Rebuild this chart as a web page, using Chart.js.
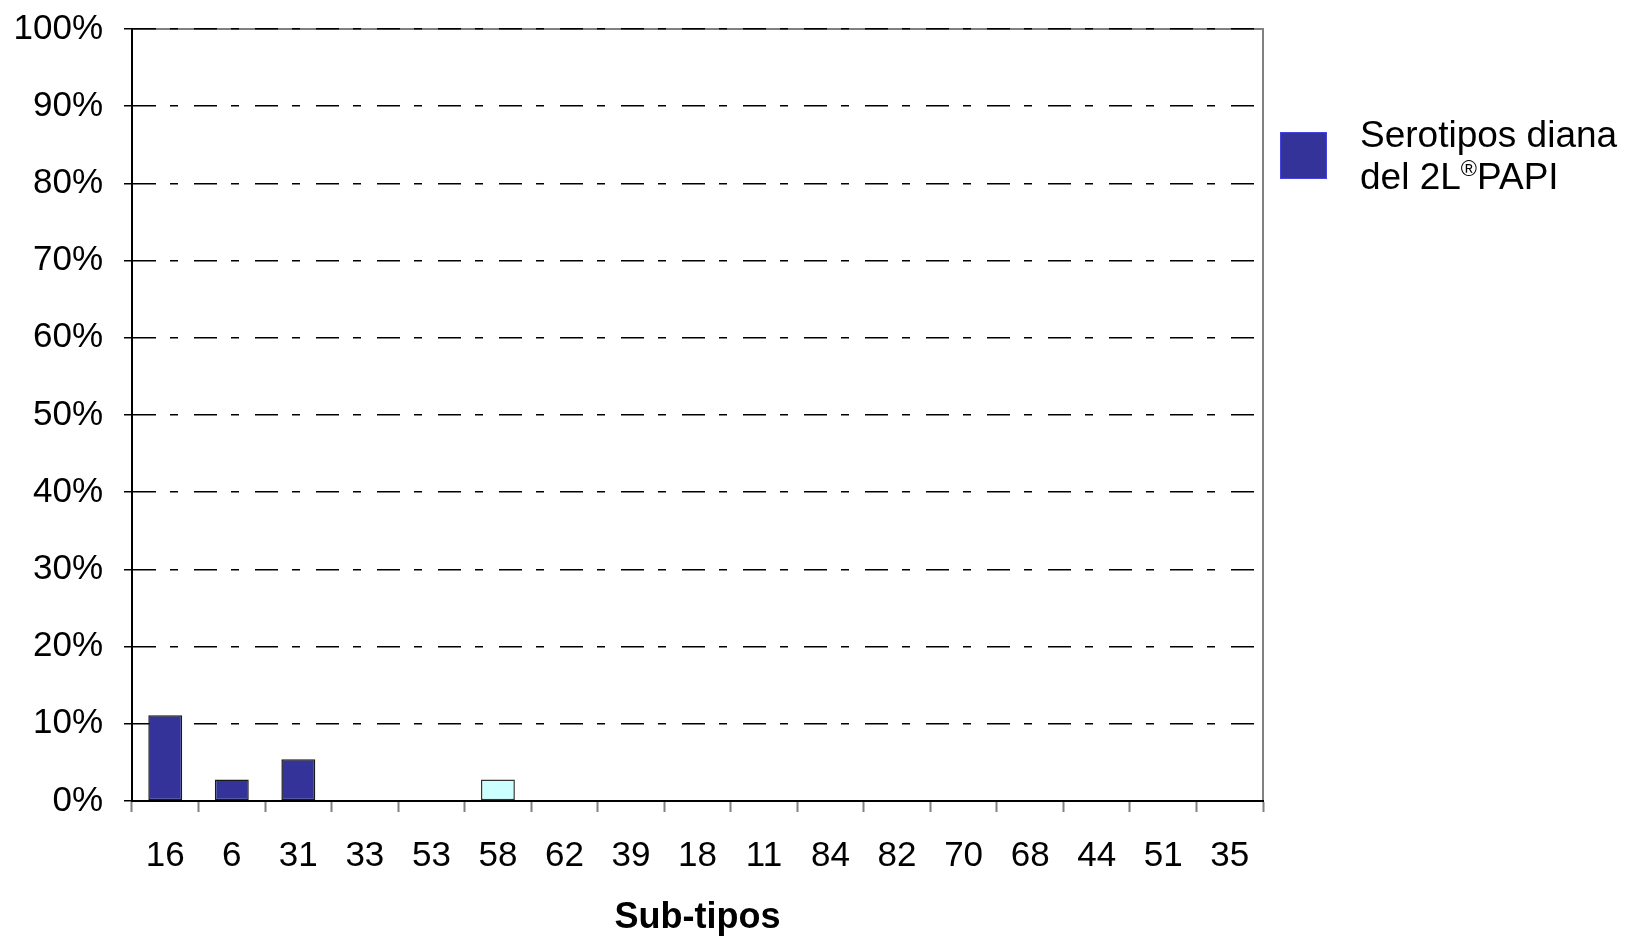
<!DOCTYPE html>
<html lang="es">
<head>
  <meta charset="UTF-8" />
  <title>Sub-tipos</title>
  <script src="https://cdn.jsdelivr.net/npm/chart.js"></script>
  <style>
    body { margin: 0; background: #fff; font-family: "Liberation Sans", Arial, sans-serif; }
    .wrap { position: relative; width: 1638px; height: 937px; }
    .legend { position: absolute; left: 1280px; top: 114px; }
    .legend .box { position: absolute; left: 0; top: 18px; width: 45px; height: 45px; background: #333399; border: 1px solid #4444dd; }
    .legend .txt { position: absolute; left: 80px; top: 0; font-size: 37px; line-height: 42px; color: #000; white-space: nowrap; }
    .legend sup { font-size: 22px; line-height: 0; }
  </style>
</head>
<body>
  <div class="wrap">
    <canvas id="subtiposChart"></canvas>
    <div class="legend">
      <div class="box"></div>
      <div class="txt">Serotipos diana<br>del 2L<sup>®</sup>PAPI</div>
    </div>
  </div>

  <script>
    // sub-tipos en el eje x
    const subtipos = ['16', '6', '31', '33', '53', '58', '62', '39', '18', '11', '84', '82', '70', '68', '44', '51', '35'];
    // % serotipos diana del 2L PAPI
    const diana = [11.1, 2.8, 5.4, 0, 0, 0, 0, 0, 0, 0, 0, 0, 0, 0, 0, 0, 0];
    // % resto de serotipos
    const otros = [0, 0, 0, 0, 0, 2.8, 0, 0, 0, 0, 0, 0, 0, 0, 0, 0, 0];
    const yTicks = [0, 10, 20, 30, 40, 50, 60, 70, 80, 90, 100];

    // marco gris arriba y a la derecha
    const frame = {
      id: 'frame',
      beforeDraw(chart) {
        const { ctx, chartArea: a } = chart;
        ctx.save();
        ctx.strokeStyle = '#808080';
        ctx.lineWidth = 2;
        ctx.beginPath();
        ctx.moveTo(a.left, a.top);
        ctx.lineTo(a.right, a.top);
        ctx.lineTo(a.right, a.bottom);
        ctx.stroke();
        ctx.restore();
      }
    };

    const font = { family: '"Liberation Sans", Arial, sans-serif', size: 35 };

    new Chart(document.getElementById('subtiposChart'), {
      type: 'bar',
      data: {
        labels: subtipos,
        datasets: [
          {
            label: 'Serotipos diana del 2L®PAPI',
            data: diana,
            backgroundColor: '#333399',
            borderColor: '#1a1a1a',
            borderWidth: 1.5,
            borderSkipped: false
          },
          {
            label: 'Otros',
            data: otros,
            backgroundColor: '#ccffff',
            borderColor: '#333333',
            borderWidth: 1.5,
            borderSkipped: false
          }
        ]
      },
      options: {
        responsive: true,
        maintainAspectRatio: false,
        animation: false,
        layout: { padding: { left: 0, top: 29, right: 375, bottom: 0 } },
        datasets: { bar: { categoryPercentage: 1, barPercentage: 0.51 } },
        plugins: {
          legend: { display: false },
          tooltip: { enabled: false }
        },
        scales: {
          x: {
            stacked: true,
            offset: true,
            afterFit: s => { s.height = 136; s.paddingLeft = 0; s.paddingRight = 0; },
            grid: {
              offset: true,
              drawOnChartArea: false,
              drawTicks: true,
              tickLength: 11,
              tickColor: '#808080',
              tickWidth: 2
            },
            border: { color: '#000', width: 2 },
            ticks: { color: '#000', font, padding: 23, maxRotation: 0, autoSkip: false },
            title: {
              display: true,
              text: 'Sub-tipos',
              color: '#000',
              font: { family: font.family, size: 36, weight: 'bold' },
              padding: { top: 0, bottom: -3 }
            }
          },
          y: {
            stacked: true,
            min: 0,
            max: 100,
            afterFit: s => { s.width = 132; s.paddingTop = 0; s.paddingBottom = 0; },
            afterBuildTicks: s => { s.ticks = yTicks.map(v => ({ value: v })); },
            grid: {
              color: '#000',
              lineWidth: 1.5,
              drawTicks: true,
              tickLength: 8,
              tickColor: '#000',
              tickBorderDash: []
            },
            border: { color: '#000', width: 2, dash: [23, 14, 8, 16] },
            ticks: { color: '#000', font, padding: 21, callback: v => v + '%' }
          }
        }
      },
      plugins: [frame]
    });
  </script>
</body>
</html>
